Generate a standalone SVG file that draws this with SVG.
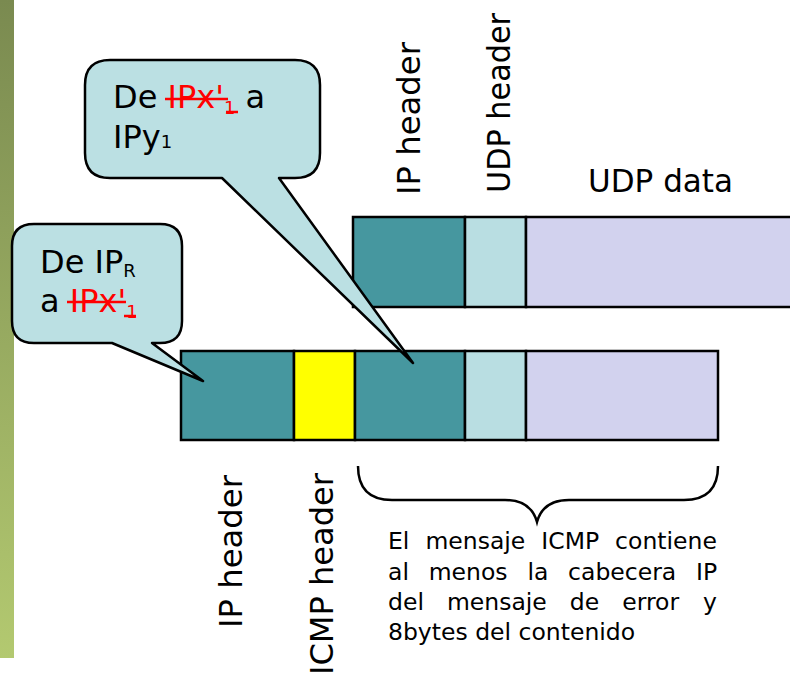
<svg xmlns="http://www.w3.org/2000/svg" width="790" height="676" viewBox="0 0 790 676">
<defs>
<linearGradient id="bar" x1="0" y1="0" x2="0" y2="1">
<stop offset="0" stop-color="#7a8a50"/>
<stop offset="1" stop-color="#b3c970"/>
</linearGradient>
<style>
text{font-family:"DejaVu Sans","Liberation Sans",sans-serif;fill:#000}
.lbl{font-size:32px}
.par{font-size:23.5px}
.cell{stroke:#000;stroke-width:2.5}
.teal{fill:#46979f}
.light{fill:#b9dee2}
.lav{fill:#d2d2ee}
.yel{fill:#ffff00}
.call{fill:#bbe0e3;stroke:#000;stroke-width:2.5;stroke-linejoin:round}
.red{fill:#ff0000}
.strike{stroke:#ff0000;stroke-width:2.5}
</style>
</defs>
<rect x="0" y="0" width="14" height="658" fill="url(#bar)"/>

<g id="udp-packet">
<rect class="cell teal" x="353" y="217" width="112" height="90"/>
<rect class="cell light" x="465" y="217" width="61" height="90"/>
<rect class="cell lav" x="526" y="217" width="280" height="90"/>
</g>

<g id="icmp-packet">
<rect class="cell teal" x="181" y="351" width="113" height="89"/>
<rect class="cell yel" x="294" y="351" width="61" height="89"/>
<rect class="cell teal" x="355" y="351" width="110" height="89"/>
<rect class="cell light" x="465" y="351" width="61" height="89"/>
<rect class="cell lav" x="526" y="351" width="192" height="89"/>
</g>

<g id="labels">
<text class="lbl" transform="translate(420,195) rotate(-90)" textLength="153" lengthAdjust="spacingAndGlyphs">IP header</text>
<text class="lbl" transform="translate(510,193) rotate(-90)" textLength="180" lengthAdjust="spacingAndGlyphs">UDP header</text>
<text class="lbl" x="588" y="192" textLength="145" lengthAdjust="spacingAndGlyphs">UDP data</text>
<text class="lbl" transform="translate(242,628) rotate(-90)" textLength="153" lengthAdjust="spacingAndGlyphs">IP header</text>
<text class="lbl" transform="translate(333,675) rotate(-90)" textLength="202" lengthAdjust="spacingAndGlyphs">ICMP header</text>
</g>

<g id="connectors">
<path d="M358,466 Q358,500 392,500 L505,500 Q531,500 537,522 Q543,500 569,500 L684,500 Q718,500 718,466" fill="none" stroke="#000" stroke-width="2.5"/>
</g>

<g id="note">
<text class="par" y="549"><tspan x="388">El</tspan> <tspan x="425.4">mensaje</tspan> <tspan x="541.3">ICMP</tspan> <tspan x="615.1">contiene</tspan></text>
<text class="par" y="580"><tspan x="388">al</tspan> <tspan x="428.7">menos</tspan> <tspan x="527.4">la</tspan> <tspan x="568.1">cabecera</tspan> <tspan x="696">IP</tspan></text>
<text class="par" y="610"><tspan x="388">del</tspan> <tspan x="446.9">mensaje</tspan> <tspan x="569.8">de</tspan> <tspan x="622.2">error</tspan> <tspan x="703">y</tspan></text>
<text class="par" x="388" y="640">8bytes del contenido</text>
</g>

<g id="callout-top">
<path class="call" d="M110,60 H295 Q320,60 320,85 V153 Q320,178 295,178 H279 L413,363 L222,178 H110 Q85,178 85,153 V85 Q85,60 110,60 Z"/>
<text class="lbl" x="113" y="108">De <tspan class="red">IPx'</tspan><tspan class="red" font-size="18" dy="6">1</tspan><tspan dy="-6"> a</tspan></text>
<line class="strike" x1="165" y1="99" x2="228" y2="99"/>
<line class="strike" x1="226" y1="112" x2="238" y2="112"/>
<text class="lbl" x="113" y="148">IPy<tspan font-size="18" dy="0">1</tspan></text>
</g>

<g id="callout-left">
<path class="call" d="M34,224 H160 Q182,224 182,246 V321 Q182,343 160,343 H152 L203,381 L112,343 H34 Q12,343 12,321 V246 Q12,224 34,224 Z"/>
<text class="lbl" x="40" y="273">De IP<tspan font-size="18" dy="4">R</tspan></text>
<text class="lbl" x="40" y="312">a <tspan class="red">IPx'</tspan><tspan class="red" font-size="18" dy="6">1</tspan></text>
<line class="strike" x1="67" y1="302" x2="126" y2="302"/>
<line class="strike" x1="124" y1="316" x2="136" y2="316"/>
</g>
</svg>
